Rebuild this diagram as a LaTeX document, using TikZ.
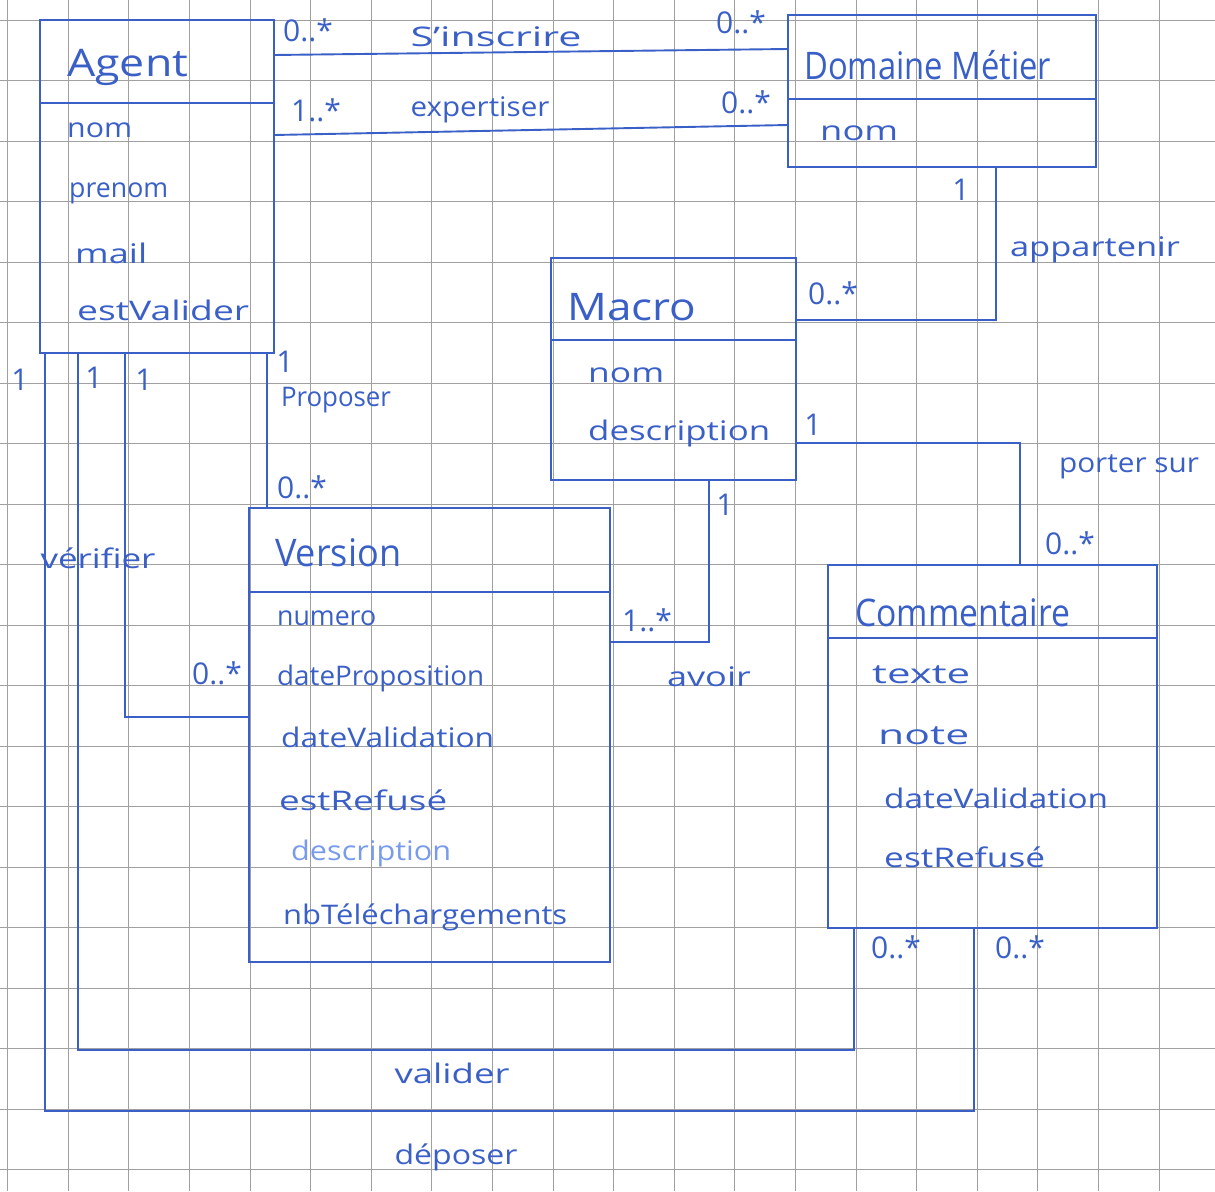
\documentclass[tikz,border=0pt]{standalone}
\usepackage{fontspec}
\usepackage{graphicx}
\setmainfont{Open Sans}
\definecolor{ink}{RGB}{58,96,200}
\definecolor{inklight}{RGB}{120,155,235}
\definecolor{gridc}{RGB}{160,160,160}
\newcommand{\fw}[2]{\resizebox{#1}{\height}{#2}}
\begin{document}
\begin{tikzpicture}[x=1pt,y=-1pt,
  classbox/.style={draw=ink, line width=2.2pt, inner sep=0pt, outer sep=0pt, anchor=north west, rectangle},
  sepline/.style={draw=ink, line width=2.2pt},
  assoc/.style={draw=ink, line width=1.9pt},
  ctitle/.style={text=ink, font=\fontsize{38}{42}\selectfont, anchor=west, inner sep=0pt},
  attr/.style={text=ink, font=\fontsize{27}{30}\selectfont, anchor=west, inner sep=0pt},
  lbl/.style={text=ink, font=\fontsize{27}{30}\selectfont, inner sep=0pt},
  mult/.style={text=ink, font=\fontsize{30}{32}\selectfont, inner sep=0pt}]
\useasboundingbox (0,0) rectangle (1215,1191);
\fill[white] (0,0) rectangle (1215,1191);
% grid paper
\foreach \k in {0,...,19} {
  \draw[gridc, line width=1pt] ({7.7+60.6*\k},0) -- ({7.7+60.6*\k},1191);
  \draw[gridc, line width=1pt] (0,{20+60.5*\k}) -- (1215,{20+60.5*\k});
}
% classes
\node[classbox, minimum width=234pt, minimum height=333pt] (agent) at (40,20) {};
\draw[sepline] ([yshift=-83pt]agent.north west) -- ([yshift=-83pt]agent.north east);
\node[classbox, minimum width=308pt, minimum height=152pt] (dm) at (788,15) {};
\draw[sepline] ([yshift=-84pt]dm.north west) -- ([yshift=-84pt]dm.north east);
\node[classbox, minimum width=245pt, minimum height=222pt] (macro) at (551,258) {};
\draw[sepline] ([yshift=-82pt]macro.north west) -- ([yshift=-82pt]macro.north east);
\node[classbox, minimum width=361pt, minimum height=454pt] (version) at (249,508) {};
\draw[sepline] ([yshift=-84pt]version.north west) -- ([yshift=-84pt]version.north east);
\node[classbox, minimum width=329pt, minimum height=363pt] (comm) at (828,565) {};
\draw[sepline] ([yshift=-73pt]comm.north west) -- ([yshift=-73pt]comm.north east);
% titles
\node[ctitle] (t-agent) at (67,67) {\fw{121pt}{Agent}};
\node[ctitle] (t-dm) at (804,65) {\fw{247pt}{Domaine Métier}};
\node[ctitle] (t-macro) at (567,307) {\fw{129pt}{Macro}};
\node[ctitle] (t-version) at (275,553) {\fw{126pt}{Version}};
\node[ctitle] (t-comm) at (855,613) {\fw{215pt}{Commentaire}};
% attributes
\node[attr] (ag-1) at (67,130) {\fw{65pt}{nom}};
\node[attr] (ag-2) at (69,193) {\fw{99pt}{prenom}};
\node[attr] (ag-3) at (75,253) {\fw{72pt}{mail}};
\node[attr] (ag-4) at (77,310) {\fw{172pt}{estValider}};
\node[attr] (dm-1) at (820,133) {\fw{78pt}{nom}};
\node[attr] (ma-1) at (588,375) {\fw{76pt}{nom}};
\node[attr] (ma-2) at (588,433) {\fw{182pt}{description}};
\node[attr] (ve-1) at (277,618) {\fw{99pt}{numero}};
\node[attr] (ve-2) at (277,678) {\fw{207pt}{dateProposition}};
\node[attr] (ve-3) at (281,737) {\fw{213pt}{dateValidation}};
\node[attr] (ve-4) at (279,800) {\fw{168pt}{estRefusé}};
\node[attr, text=inklight] (ve-5) at (291,853) {\fw{160pt}{description}};
\node[attr] (ve-6) at (283,917) {\fw{284pt}{nbTéléchargements}};
\node[attr] (co-1) at (872,675) {\fw{98pt}{texte}};
\node[attr] (co-2) at (878,736) {\fw{91pt}{note}};
\node[attr] (co-3) at (884,798) {\fw{224pt}{dateValidation}};
\node[attr] (co-4) at (884,857) {\fw{161pt}{estRefusé}};
% associations
\draw[assoc] ([yshift=-35pt]agent.north east) -- ([yshift=-34pt]dm.north west);
\draw[assoc] ([yshift=-115pt]agent.north east) -- ([yshift=-110pt]dm.north west);
\draw[assoc] ([xshift=208pt]dm.south west) |- ([yshift=-62pt]macro.north east);
\draw[assoc] ([yshift=-185pt]macro.north east) -| ([xshift=192pt]comm.north west);
\draw[assoc] ([xshift=158pt]macro.south west) |- ([yshift=-134pt]version.north east);
\draw[assoc] ([xshift=227pt]agent.south west) -- ([xshift=18pt]version.north west);
\draw[assoc] ([xshift=85pt]agent.south west) |- ([yshift=-209pt]version.north west);
\coordinate (vA) at ([xshift=38pt]agent.south west);
\coordinate (vC) at ([xshift=26pt]comm.south west);
\coordinate (vY) at (0,1050);
\draw[assoc] (vA) -- (vA |- vY) -- (vC |- vY) -- (vC);
\coordinate (dA) at ([xshift=5pt]agent.south west);
\coordinate (dC) at ([xshift=146pt]comm.south west);
\coordinate (dY) at (0,1111);
\draw[assoc] (dA) -- (dA |- dY) -- (dC |- dY) -- (dC);
% association labels
\node[lbl] (l-ins) at (496,37) {\fw{171pt}{S'inscrire}};
\node[lbl] (l-exp) at (480,110) {\fw{139pt}{expertiser}};
\node[lbl] (l-app) at (1095,250) {\fw{170pt}{appartenir}};
\node[lbl] (l-por) at (1129,467) {\fw{140pt}{porter sur}};
\node[lbl] (l-avo) at (709,677) {\fw{84pt}{avoir}};
\node[lbl] (l-pro) at (336,400) {\fw{110pt}{Proposer}};
\node[lbl] (l-ver) at (98,558) {\fw{115pt}{vérifier}};
\node[lbl] (l-val) at (452,1073) {\fw{115pt}{valider}};
\node[lbl] (l-dep) at (456,1157) {\fw{123pt}{déposer}};
% multiplicities
\node[mult] (m1) at (308,30) {0..*};
\node[mult] (m2) at (741,22) {0..*};
\node[mult] (m3) at (316,110) {1..*};
\node[mult] (m4) at (746,102) {0..*};
\node[mult] (m5) at (961,190) {1};
\node[mult] (m6) at (833,293) {0..*};
\node[mult] (m7) at (813,425) {1};
\node[mult] (m8) at (1070,543) {0..*};
\node[mult] (m9) at (725,505) {1};
\node[mult] (m10) at (647,620) {1..*};
\node[mult] (m11) at (285,362) {1};
\node[mult] (m12) at (302,487) {0..*};
\node[mult] (m13) at (20,380) {1};
\node[mult] (m14) at (94,378) {1};
\node[mult] (m15) at (144,380) {1};
\node[mult] (m16) at (217,673) {0..*};
\node[mult] (m17) at (896,947) {0..*};
\node[mult] (m18) at (1020,947) {0..*};
\end{tikzpicture}
\end{document}
